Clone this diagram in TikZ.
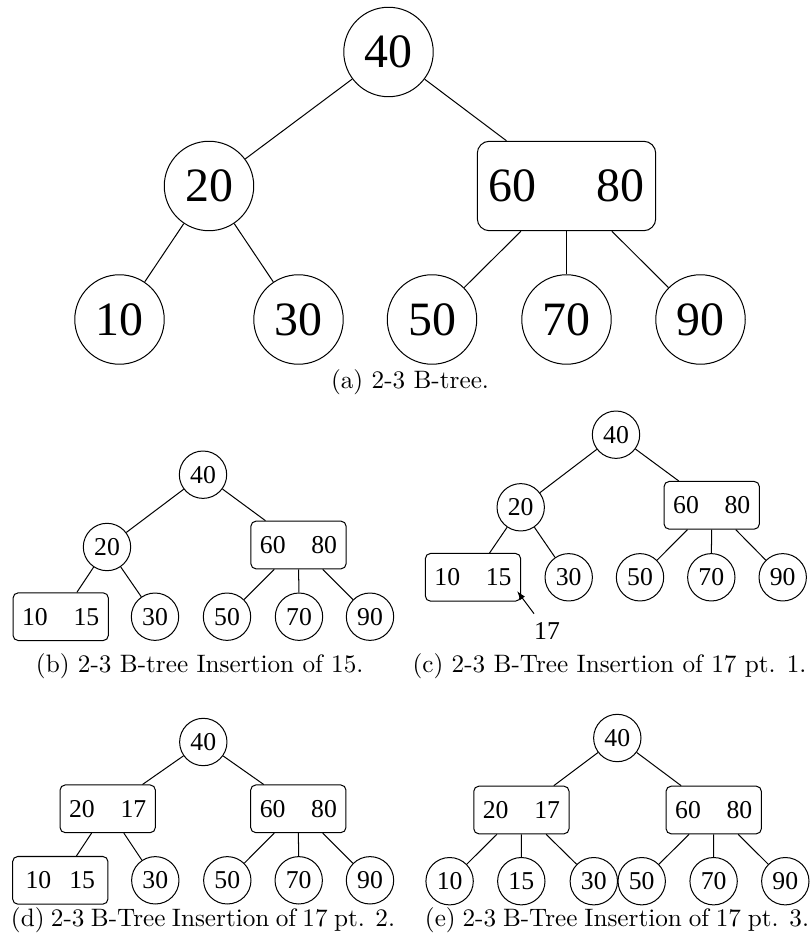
\documentclass[tikz,border=0pt]{standalone}
\usepackage{fontspec}
\newfontfamily\keyfont{Liberation Serif}
\usetikzlibrary{arrows.meta}

\begin{document}
\begin{tikzpicture}[x=0.39683pt, y=-0.39683pt,
  every node/.style={inner sep=0pt},
  key/.style={circle, draw, minimum size=18.8pt, font=\keyfont\fontsize{10.2}{12}\selectfont},
  keys/.style={draw, rounded corners=2pt, minimum width=37.8pt, minimum height=18.9pt, font=\keyfont\fontsize{10.2}{12}\selectfont},
  bigkey/.style={circle, draw, minimum size=35.5pt, font=\keyfont\fontsize{19}{23}\selectfont},
  bigkeys/.style={draw, rounded corners=4.8pt, minimum width=70.8pt, minimum height=35.5pt, font=\keyfont\fontsize{19}{23}\selectfont},
  subcap/.style={anchor=base, font=\fontsize{10}{12}\selectfont},
  newkey/.style={inner sep=3.3pt, font=\keyfont\fontsize{10.2}{12}\selectfont}
]
\path[use as bounding box] (0,0) rectangle (810,935);

% ---------------- (a) the initial 2-3 B-tree ----------------
\node[bigkey] (a40) at (388.5,52) {40};
\node[bigkey] (a20) at (209,186) {20};
\node[bigkeys] (a6080) at (566.5,186) {60\hspace{1.25em}80};
\node[bigkey] (a10) at (119.5,319.5) {10};
\node[bigkey] (a30) at (298.5,319.5) {30};
\node[bigkey] (a50) at (432,319.5) {50};
\node[bigkey] (a70) at (566.5,319.5) {70};
\node[bigkey] (a90) at (700.5,319.5) {90};
\foreach \p/\c in {a40/a20, a40/a6080, a20/a10, a20/a30, a6080/a50, a6080/a70, a6080/a90}
  \draw (\p) -- (\c);
\node[subcap] (capa) at (410,389) {(a) 2-3 B-tree.};

% ---------------- (b) insertion of 15 ----------------
\node[key] (b40) at (203,474.7) {40};
\node[key] (b20) at (107,547) {20};
\node[keys] (b6080) at (298.5,545) {60\quad 80};
\node[keys] (b1015) at (60.7,616.7) {10\quad 15};
\node[key] (b30) at (155,616.7) {30};
\node[key] (b50) at (227,616.7) {50};
\node[key] (b70) at (299,616.7) {70};
\node[key] (b90) at (370,616.7) {90};
\foreach \p/\c in {b40/b20, b40/b6080, b20/b1015, b20/b30, b6080/b50, b6080/b70, b6080/b90}
  \draw (\p) -- (\c);
\node[subcap] (capb) at (199.7,672) {(b) 2-3 B-tree Insertion of 15.};

% ---------------- (c) insertion of 17, step 1 ----------------
\node[key] (c40) at (616,434.7) {40};
\node[key] (c20) at (520.7,507.3) {20};
\node[keys] (c6080) at (711.7,505.3) {60\quad 80};
\node[keys] (c1015) at (473,577.3) {10\quad 15};
\node[key] (c30) at (568.7,577.3) {30};
\node[key] (c50) at (640,577.3) {50};
\node[key] (c70) at (711.3,577.3) {70};
\node[key] (c90) at (782.7,577.3) {90};
\foreach \p/\c in {c40/c20, c40/c6080, c20/c1015, c20/c30, c6080/c50, c6080/c70, c6080/c90}
  \draw (\p) -- (\c);
\node[newkey] (c17) at (547,631) {17};
\coordinate (ctip) at (517,591);
\draw[-{Latex[length=3.6pt,width=2.4pt]}] (c17) -- (ctip);
\node[subcap] (capc) at (609.5,672) {(c) 2-3 B-Tree Insertion of 17 pt. 1.};

% ---------------- (d) insertion of 17, step 2 ----------------
\node[key] (d40) at (203.3,742) {40};
\node[keys] (d2017) at (107.7,808.8) {20\quad 17};
\node[keys] (d6080) at (298.3,808.8) {60\quad 80};
\node[keys] (d1015) at (60.3,880.3) {10\hspace{0.7em}15};
\node[key] (d30) at (155.3,880.3) {30};
\node[key] (d50) at (227.3,880.3) {50};
\node[key] (d70) at (298.7,880.3) {70};
\node[key] (d90) at (370,880.3) {90};
\foreach \p/\c in {d40/d2017, d40/d6080, d2017/d1015, d2017/d30, d6080/d50, d6080/d70, d6080/d90}
  \draw (\p) -- (\c);
\node[subcap] (capd) at (203,926) {\hbox to 152.4pt{(d) 2-3 B-Tree Insertion of 17 pt. 2.}};

% ---------------- (e) insertion of 17, step 3 ----------------
\node[key] (e40) at (617.3,738) {40};
\node[keys] (e2017) at (521.4,810) {20\quad 17};
\node[keys] (e6080) at (713.7,810) {60\quad 80};
\node[key] (e10) at (449.6,881.2) {10};
\node[key] (e15) at (521.3,881.2) {15};
\node[key] (e30) at (593.8,881.2) {30};
\node[key] (e50) at (641.7,881.2) {50};
\node[key] (e70) at (713.6,881.2) {70};
\node[key] (e90) at (785.3,881.2) {90};
\foreach \p/\c in {e40/e2017, e40/e6080, e2017/e10, e2017/e15, e2017/e30, e6080/e50, e6080/e70, e6080/e90}
  \draw (\p) -- (\c);
\node[subcap] (cape) at (617,926) {\hbox to 152.4pt{(e) 2-3 B-Tree Insertion of 17 pt. 3.}};
\end{tikzpicture}
\end{document}
